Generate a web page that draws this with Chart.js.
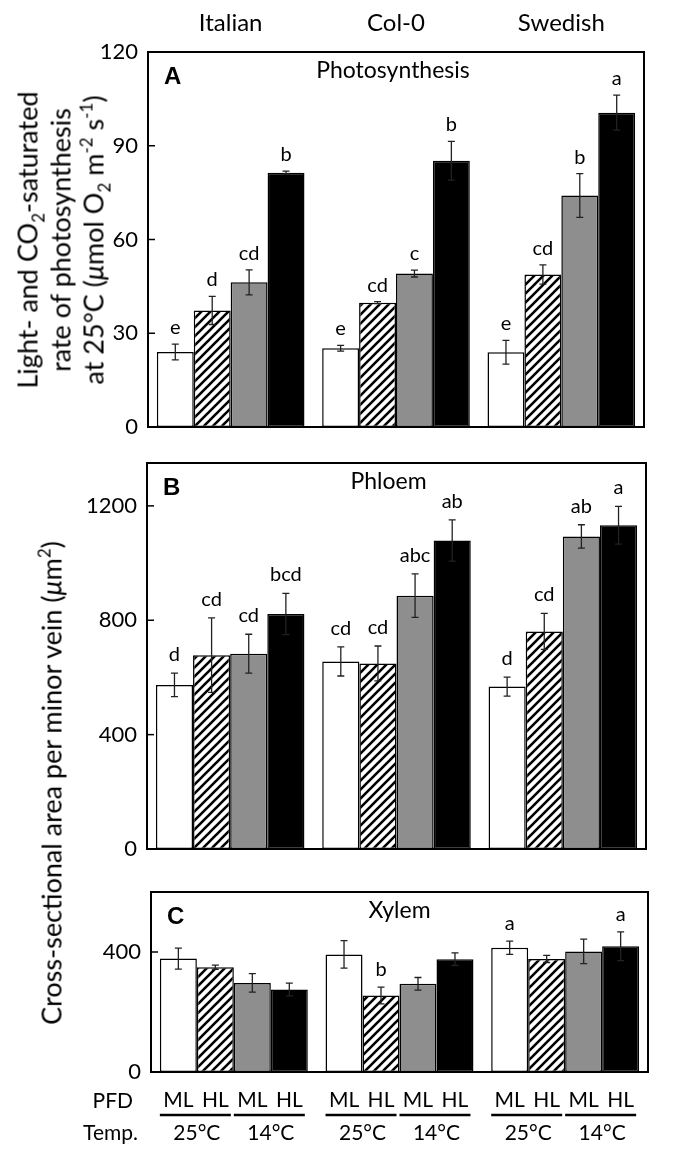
<!DOCTYPE html>
<html><head><meta charset="utf-8">
<script src="https://cdn.jsdelivr.net/npm/chart.js@4/dist/chart.umd.min.js"></script>
<style>
html,body{margin:0;padding:0;background:#fff;}
body{width:687px;height:1161px;overflow:hidden;position:relative;font-family:Lato,sans-serif;color:#000;}
canvas{position:absolute;left:0;}
.ytitle{position:absolute;transform:translate(-50%,-50%) rotate(-90deg);text-align:center;white-space:nowrap;font-size:27px;line-height:33px;}
.sub{font-size:17px;position:relative;top:7px;line-height:0;}
.sup{font-size:17px;position:relative;top:-11px;line-height:0;}
</style></head><body>
<canvas id="cA" width="687" height="455" style="top:0"></canvas>
<canvas id="cB" width="687" height="447" style="top:430px"></canvas>
<canvas id="cC" width="687" height="301" style="top:860px"></canvas>
<div class="ytitle" style="left:60px;top:240px">Light- and CO<span class="sub">2</span>-saturated<br>rate of photosynthesis<br>at 25°C (<i>μ</i>mol O<span class="sub">2</span> m<span class="sup">-2</span> s<span class="sup">-1</span>)</div>
<div class="ytitle" style="left:51px;top:783px">Cross-sectional area per minor vein (<i>μ</i>m<span class="sup">2</span>)</div>
<script>
const categories = ['Italian', 'Col-0', 'Swedish'];
const seriesNames = ['ML 25°C', 'HL 25°C', 'ML 14°C', 'HL 14°C'];
const pfdLabels = ['ML', 'HL', 'ML', 'HL'];
const tempLabels = ['25°C', '14°C'];

// Panel A: photosynthesis
const photoML25 = [24.0, 25.2, 23.9];
const photoHL25 = [37.3, 39.8, 48.8];
const photoML14 = [46.3, 49.1, 74.1];
const photoHL14 = [81.4, 85.2, 100.6];
const photoErrML25 = [2.5, 0.9, 3.8];
const photoErrHL25 = [4.5, 0.3, 3.1];
const photoErrML14 = [4.0, 1.1, 7.0];
const photoErrHL14 = [0.5, 6.2, 5.6];
const photoSigML25 = ['e', 'e', 'e'];
const photoSigHL25 = ['d', 'cd', 'cd'];
const photoSigML14 = ['cd', 'c', 'b'];
const photoSigHL14 = ['b', 'b', 'a'];
const photoTicks = [0, 30, 60, 90, 120];

// Panel B: phloem
const phloemML25 = [574, 656, 568];
const phloemHL25 = [678, 649, 761];
const phloemML14 = [683, 886, 1093];
const phloemHL14 = [822, 1079, 1132];
const phloemErrML25 = [41, 51, 33];
const phloemErrHL25 = [130, 61, 63];
const phloemErrML14 = [68, 76, 41];
const phloemErrHL14 = [72, 72, 66];
const phloemSigML25 = ['d', 'cd', 'd'];
const phloemSigHL25 = ['cd', 'cd', 'cd'];
const phloemSigML14 = ['cd', 'abc', 'ab'];
const phloemSigHL14 = ['bcd', 'ab', 'a'];
const phloemTicks = [0, 400, 800, 1200];

// Panel C: xylem
const xylemML25 = [378, 392, 414];
const xylemHL25 = [349, 255, 377];
const xylemML14 = [297, 294, 402];
const xylemHL14 = [275, 376, 419];
const xylemErrML25 = [35, 46, 22];
const xylemErrHL25 = [7, 28, 12];
const xylemErrML14 = [31, 21, 41];
const xylemErrHL14 = [21, 21, 48];
const xylemSigML25 = ['', '', 'a'];
const xylemSigHL25 = ['', 'b', ''];
const xylemSigML14 = ['', '', ''];
const xylemSigHL14 = ['', '', 'a'];
const xylemTicks = [0, 400];

Chart.defaults.font.family = 'Lato';
Chart.defaults.color = '#000';

function hatchPattern() {
  const c = document.createElement('canvas');
  c.width = 9; c.height = 9;
  const g = c.getContext('2d');
  g.fillStyle = '#fff'; g.fillRect(0, 0, 9, 9);
  g.strokeStyle = '#000'; g.lineWidth = 2.6;
  g.beginPath();
  for (const k of [-9, 0, 9]) { g.moveTo(k - 1, 10); g.lineTo(k + 10, -1); }
  g.stroke();
  return g.createPattern(c, 'repeat');
}
const fills = ['#ffffff', hatchPattern(), '#8e8e8e', '#000000'];

function makePanel(id, cfg) {
  const decor = {
    id: 'decor' + id,
    afterDatasetsDraw(chart) {
      const ctx = chart.ctx, ca = chart.chartArea, ys = chart.scales.y;
      ctx.save();
      // error bars
      ctx.strokeStyle = '#222'; ctx.lineWidth = 1.3;
      cfg.values.forEach((vals, i) => {
        const meta = chart.getDatasetMeta(i);
        vals.forEach((v, j) => {
          const el = meta.data[j];
          const e = cfg.errors[i][j];
          const yt = ys.getPixelForValue(v + e), yb = ys.getPixelForValue(v - e);
          ctx.beginPath();
          ctx.moveTo(el.x, yt); ctx.lineTo(el.x, yb);
          ctx.moveTo(el.x - 3.5, yt); ctx.lineTo(el.x + 3.5, yt);
          ctx.moveTo(el.x - 3.5, yb); ctx.lineTo(el.x + 3.5, yb);
          ctx.stroke();
          const s = cfg.sig[i][j];
          if (s) {
            ctx.fillStyle = '#000';
            ctx.font = '20px Lato';
            ctx.textAlign = 'center'; ctx.textBaseline = 'alphabetic';
            ctx.fillText(s, el.x, yt - cfg.sigGap);
          }
        });
      });
      // frame
      ctx.strokeStyle = '#000'; ctx.lineWidth = 2;
      ctx.strokeRect(ca.left, ca.top, ca.right - ca.left, ca.bottom - ca.top);
      // inward tick marks
      ctx.lineWidth = 1.5;
      cfg.ticks.forEach(t => {
        const y = ys.getPixelForValue(t);
        ctx.beginPath(); ctx.moveTo(ca.left, y); ctx.lineTo(ca.left + 7, y); ctx.stroke();
      });
      // panel letter and title
      ctx.fillStyle = '#000';
      ctx.font = 'bold 24px "Liberation Sans"';
      ctx.textAlign = 'left'; ctx.textBaseline = 'alphabetic';
      ctx.fillText(cfg.letter, ca.left + 16, ca.top + 32);
      ctx.font = '23px Lato';
      ctx.textAlign = 'center'; ctx.textBaseline = 'middle';
      ctx.fillText(cfg.title, (ca.left + ca.right) / 2 + cfg.titleDx, ca.top + 19);
      // bottom treatment labels
      if (cfg.bottomLabels) {
        ctx.font = '21px Lato';
        ctx.textBaseline = 'middle';
        ctx.textAlign = 'right';
        ctx.fillText('PFD', 133, ca.bottom + 29);
        ctx.fillText('Temp.', 138, ca.bottom + 61);
        ctx.textAlign = 'center';
        for (let j = 0; j < categories.length; j++) {
          for (let i = 0; i < pfdLabels.length; i++) {
            const el = chart.getDatasetMeta(i).data[j];
            ctx.fillText(pfdLabels[i], el.x, ca.bottom + 28);
          }
          for (let k = 0; k < tempLabels.length; k++) {
            const a = chart.getDatasetMeta(2 * k).data[j];
            const b = chart.getDatasetMeta(2 * k + 1).data[j];
            const x1 = a.x - a.width / 2, x2 = b.x + b.width / 2 - 3;
            ctx.lineWidth = 2.5;
            ctx.beginPath(); ctx.moveTo(x1, ca.bottom + 43); ctx.lineTo(x2, ca.bottom + 43); ctx.stroke();
            ctx.fillText(tempLabels[k], (a.x + b.x) / 2, ca.bottom + 61);
          }
        }
      }
      ctx.restore();
    }
  };
  return new Chart(document.getElementById(id), {
    type: 'bar',
    data: {
      labels: categories,
      datasets: cfg.values.map((vals, i) => ({
        label: seriesNames[i], data: vals,
        backgroundColor: fills[i], borderColor: '#000', borderWidth: 1.5, borderSkipped: false,
        categoryPercentage: 0.893, barPercentage: 1.0
      }))
    },
    options: {
      responsive: false, animation: false,
      layout: { padding: cfg.padding },
      plugins: { legend: { display: false }, tooltip: { enabled: false }, title: { display: false } },
      scales: {
        x: {
          display: cfg.showTop, position: 'top',
          grid: { display: false, drawTicks: false }, border: { display: false },
          ticks: { font: { size: 24, family: 'Lato' }, color: '#000', padding: 14, maxRotation: 0 },
          afterFit: s => { s.height = cfg.topHeight || 0; }
        },
        y: {
          min: 0, max: cfg.max,
          grid: { display: false, drawTicks: false }, border: { display: false },
          ticks: { font: { size: 22, family: 'Lato' }, color: '#000', padding: 10, callback: v => String(v) },
          afterBuildTicks: s => { s.ticks = cfg.ticks.map(v => ({ value: v })); },
          afterFit: s => { s.width = cfg.left; }
        }
      }
    },
    plugins: [decor]
  });
}

makePanel('cA', {
  values: [photoML25, photoHL25, photoML14, photoHL14],
  errors: [photoErrML25, photoErrHL25, photoErrML14, photoErrHL14],
  sig: [photoSigML25, photoSigHL25, photoSigML14, photoSigHL14],
  ticks: photoTicks, max: 120, letter: 'A', title: 'Photosynthesis', titleDx: -3,
  showTop: true, topHeight: 52, left: 148, sigGap: 10,
  padding: { left: 0, right: 43, top: 0, bottom: 28 }
});
makePanel('cB', {
  values: [phloemML25, phloemHL25, phloemML14, phloemHL14],
  errors: [phloemErrML25, phloemErrHL25, phloemErrML14, phloemErrHL14],
  sig: [phloemSigML25, phloemSigHL25, phloemSigML14, phloemSigHL14],
  ticks: phloemTicks, max: 1350, letter: 'B', title: 'Phloem', titleDx: -8,
  showTop: false, left: 147, sigGap: 12,
  padding: { left: 0, right: 41, top: 33, bottom: 28 }
});
makePanel('cC', {
  values: [xylemML25, xylemHL25, xylemML14, xylemHL14],
  errors: [xylemErrML25, xylemErrHL25, xylemErrML14, xylemErrHL14],
  sig: [xylemSigML25, xylemSigHL25, xylemSigML14, xylemSigHL14],
  ticks: xylemTicks, max: 600, letter: 'C', title: 'Xylem', titleDx: 0,
  showTop: false, left: 151, sigGap: 11, bottomLabels: true,
  padding: { left: 0, right: 39, top: 32, bottom: 89 }
});
</script>
</body></html>
